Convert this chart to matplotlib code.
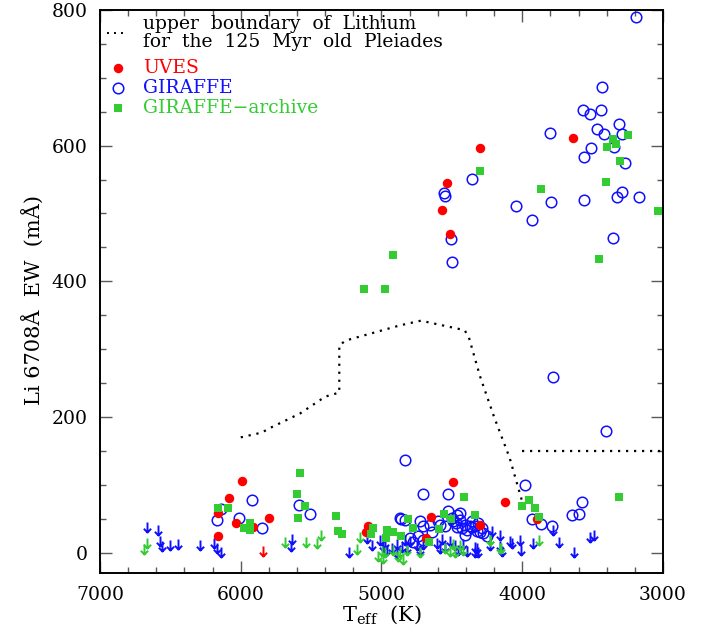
import numpy as np
import matplotlib
matplotlib.use("Agg")
import matplotlib.pyplot as plt
from matplotlib.path import Path

plt.rcParams["font.family"] = ["DejaVu Serif"]
plt.rcParams["mathtext.fontset"] = "dejavuserif"

# ================= DATA =================
# upper boundary of Li for the Pleiades (dotted curve)
pleiades_teff = [6000, 5850, 5800, 5580, 5400, 5300, 5300, 5250, 4870, 4720,
                 4410, 4380, 4300, 4200, 4090, 4000]
pleiades_ew = [170, 177, 183, 205, 230, 236, 306, 313, 335, 342,
               328, 318, 260, 200, 140, 75]
pleiades_cool_teff = [4000, 3000]
pleiades_cool_ew = [150, 150]

# UVES detections
uves_teff = [4298, 3641, 4532, 4573, 4513, 5989, 6086, 6160, 6160, 6037,
             5911, 5802, 5099, 5111, 4495, 4648, 4302, 4684, 4123, 3898]
uves_ew = [596, 612, 545, 505, 470, 105, 81, 58, 25, 44,
           38, 51, 40, 31, 104, 52, 41, 22, 74, 50]
# UVES upper limits
uves_lim_teff = [5840]
uves_lim_ew = [10]

# GIRAFFE detections
giraffe_teff = [3192, 3432, 3566, 3519, 3440, 3310, 3471, 3419, 3294, 3803,
                3512, 3346, 3558, 3270, 4359, 3294, 3325, 3173, 3563, 3793,
                4047, 3928, 3353, 4556, 4550, 4506, 4502, 3782, 3405, 4833,
                6171, 6143, 6010, 5918, 5852, 5584, 5508, 4861, 4705, 4528,
                3980, 3578, 3649, 3600, 3934, 3870, 3788,
                4869, 4833, 4726, 4703, 4655, 4643, 4596, 4584, 4549, 4525,
                4502, 4466, 4442, 4471, 4442, 4407, 4371, 4359, 4336, 4312,
                4288, 4300, 4798, 4776, 4741, 4705, 4492, 4464, 4428, 4393,
                4357, 4407, 4322, 4279, 4251]
giraffe_ew = [790, 686, 653, 646, 653, 632, 624, 617, 617, 619,
              597, 598, 583, 575, 551, 532, 524, 525, 520, 517,
              511, 491, 464, 530, 526, 462, 429, 259, 179, 137,
              48, 64, 51, 77, 37, 70, 57, 50, 86, 87,
              99, 75, 56, 57, 50, 42, 39,
              51, 48, 46, 39, 41, 31, 46, 41, 39, 62,
              51, 56, 58, 44, 48, 41, 39, 46, 39, 44,
              36, 31, 22, 16, 24, 19, 46, 38, 36, 34,
              38, 26, 32, 29, 24]
# GIRAFFE upper limits
giraffe_lim_teff = [6668, 6586, 6574, 6562, 6503, 6444, 6290, 6190, 6167, 6143,
                    5639, 5644, 5230,
                    5106, 5070, 5011, 4992, 4928, 4892, 4833, 4821, 4975, 4961,
                    4890, 4854, 4798, 4748, 4726, 4705, 4606, 4584, 4572, 4549,
                    4513, 4478, 4454, 4419, 4395, 4336, 4312,
                    4218, 4158, 4075, 4016, 4011, 3926, 3785, 3740, 3630, 3519,
                    3489, 4229, 4324, 4338, 4158, 4146, 4087]
giraffe_lim_ew = [45, 41, 24, 17, 18, 20, 18, 22, 14, 8,
                  27, 17, 8,
                  29, 19, 26, 17, 14, 7, 26, 14, 22, 12,
                  20, 16, 25, 18, 12, 20, 22, 14, 28, 16,
                  24, 18, 12, 20, 10, 16, 8,
                  40, 33, 22, 26, 12, 22, 41, 23, 9, 31,
                  34, 19, 14, 9, 17, 10, 24]

# GIRAFFE-archive detections
archive_teff = [4298, 3865, 3353, 3332, 3396, 3247, 3304, 3405, 3033, 3454,
                4921, 5124, 4973,
                6164, 6088, 5975, 5934, 5934, 5579, 5602, 5541, 5591, 5323,
                5311, 5282, 5057, 5074, 4962, 4967, 4915, 4860, 4810, 4412,
                4004, 3950, 3912, 3879, 3310, 4555, 4506, 4333, 4774, 4590,
                4660]
archive_ew = [563, 536, 610, 603, 598, 616, 577, 547, 504, 433,
              439, 388, 388,
              66, 66, 36, 43, 34, 117, 86, 69, 51, 54,
              32, 27, 36, 28, 34, 22, 31, 24, 50, 82,
              69, 78, 66, 53, 82, 57, 49, 56, 36, 35,
              15]
# GIRAFFE-archive upper limits
archive_lim_teff = [6687, 6668, 5686, 5536, 5461, 5430, 5177, 5153,
                    5023, 4987, 4880, 4845, 4999, 4975, 4916, 4869, 4821, 4726,
                    4549, 4513, 4492, 4478, 4442, 4419, 4229, 4158,
                    3879, 4153, 4229]
archive_lim_ew = [13, 21, 23, 23, 21, 34, 13, 31,
                  2, 0, 2, -2, 10, 8, 12, 9, 11, 8,
                  14, 10, 20, 8, 18, 12, 26, 14,
                  26, 14, 26]

RED = "#ff0000"
BLUE = "#1010ff"
GREEN = "#33cc33"

# down-pointing arrow marker, top of the arrow sits on the value
arrow = Path([(0, 0), (0, -1), (-0.36, -0.62), (0, -1), (0.36, -0.62)],
             [Path.MOVETO, Path.LINETO, Path.MOVETO, Path.LINETO, Path.LINETO])

# ================= PLOT =================
fig = plt.figure(figsize=(7.13, 6.42), dpi=100)
ax = fig.add_axes([100 / 713, 1 - 573 / 642, 563 / 713, 563 / 642])

ax.plot(pleiades_teff, pleiades_ew, color="black", lw=1.6,
        linestyle=(0, (1, 2.6)))
ax.plot(pleiades_cool_teff, pleiades_cool_ew, color="black", lw=1.6,
        linestyle=(0, (1, 2.6)))

ax.plot(giraffe_teff, giraffe_ew, "o", ms=7.6, mfc="none", mec=BLUE, mew=1.1)
ax.plot(giraffe_lim_teff, giraffe_lim_ew, ls="none", marker=arrow, ms=14.5,
        mfc="none", mec=BLUE, mew=1.4)
ax.plot(archive_lim_teff, archive_lim_ew, ls="none", marker=arrow, ms=14.5,
        mfc="none", mec=GREEN, mew=1.4)
ax.plot(uves_lim_teff, uves_lim_ew, ls="none", marker=arrow, ms=14.5,
        mfc="none", mec=RED, mew=1.4)
ax.plot(uves_teff, uves_ew, "o", ms=6.8, mfc=RED, mec=RED, mew=0)
ax.plot(archive_teff, archive_ew, "s", ms=5.6, mfc=GREEN, mec=GREEN, mew=0)

ax.set_xlim(7000, 3000)
ax.set_ylim(-30, 800)
ax.set_xticks([7000, 6000, 5000, 4000, 3000])
ax.set_xticks(np.arange(3000, 7001, 200), minor=True)
ax.set_yticks([0, 200, 400, 600, 800])
ax.set_yticks(np.arange(0, 801, 50), minor=True)
ax.tick_params(which="both", direction="in", top=True, right=True,
               color="0.35", width=1.0, labelsize=13.5, pad=9)
ax.tick_params(which="major", length=8.6)
ax.tick_params(which="minor", length=4.3)
for s in ax.spines.values():
    s.set_linewidth(1.4)

ax.set_xlabel(r"T$_{\rm eff}$  (K)", fontsize=15, labelpad=0)
ax.set_ylabel("Li 6708Å  EW  (mÅ)", fontsize=15)
ax.yaxis.set_label_coords(-0.10, 0.485)

# legend drawn by hand
tr = ax.transAxes
ax.plot([0.013, 0.05], [0.959, 0.959], color="black", lw=1.4,
        linestyle=(0, (1, 2.6)), transform=tr, clip_on=False)
ax.text(0.076, 0.975, "upper  boundary  of  Lithium", transform=tr,
        fontsize=13.5, va="center", ha="left")
ax.text(0.076, 0.943, "for  the  125  Myr  old  Pleiades", transform=tr,
        fontsize=13.5, va="center", ha="left")
ax.plot([0.032], [0.897], "o", ms=6.8, mfc=RED, mec=RED, mew=0, transform=tr)
ax.text(0.076, 0.897, "UVES", color=RED, transform=tr, fontsize=13.5,
        va="center", ha="left")
ax.plot([0.032], [0.861], "o", ms=7.6, mfc="none", mec=BLUE, mew=1.1,
        transform=tr)
ax.text(0.076, 0.861, "GIRAFFE", color=BLUE, transform=tr, fontsize=13.5,
        va="center", ha="left")
ax.plot([0.032], [0.826], "s", ms=5.6, mfc=GREEN, mec=GREEN, mew=0,
        transform=tr)
ax.text(0.076, 0.826, "GIRAFFE\u2212archive", color=GREEN, transform=tr,
        fontsize=13.5, va="center", ha="left")

fig.savefig("out.png", dpi=100)
